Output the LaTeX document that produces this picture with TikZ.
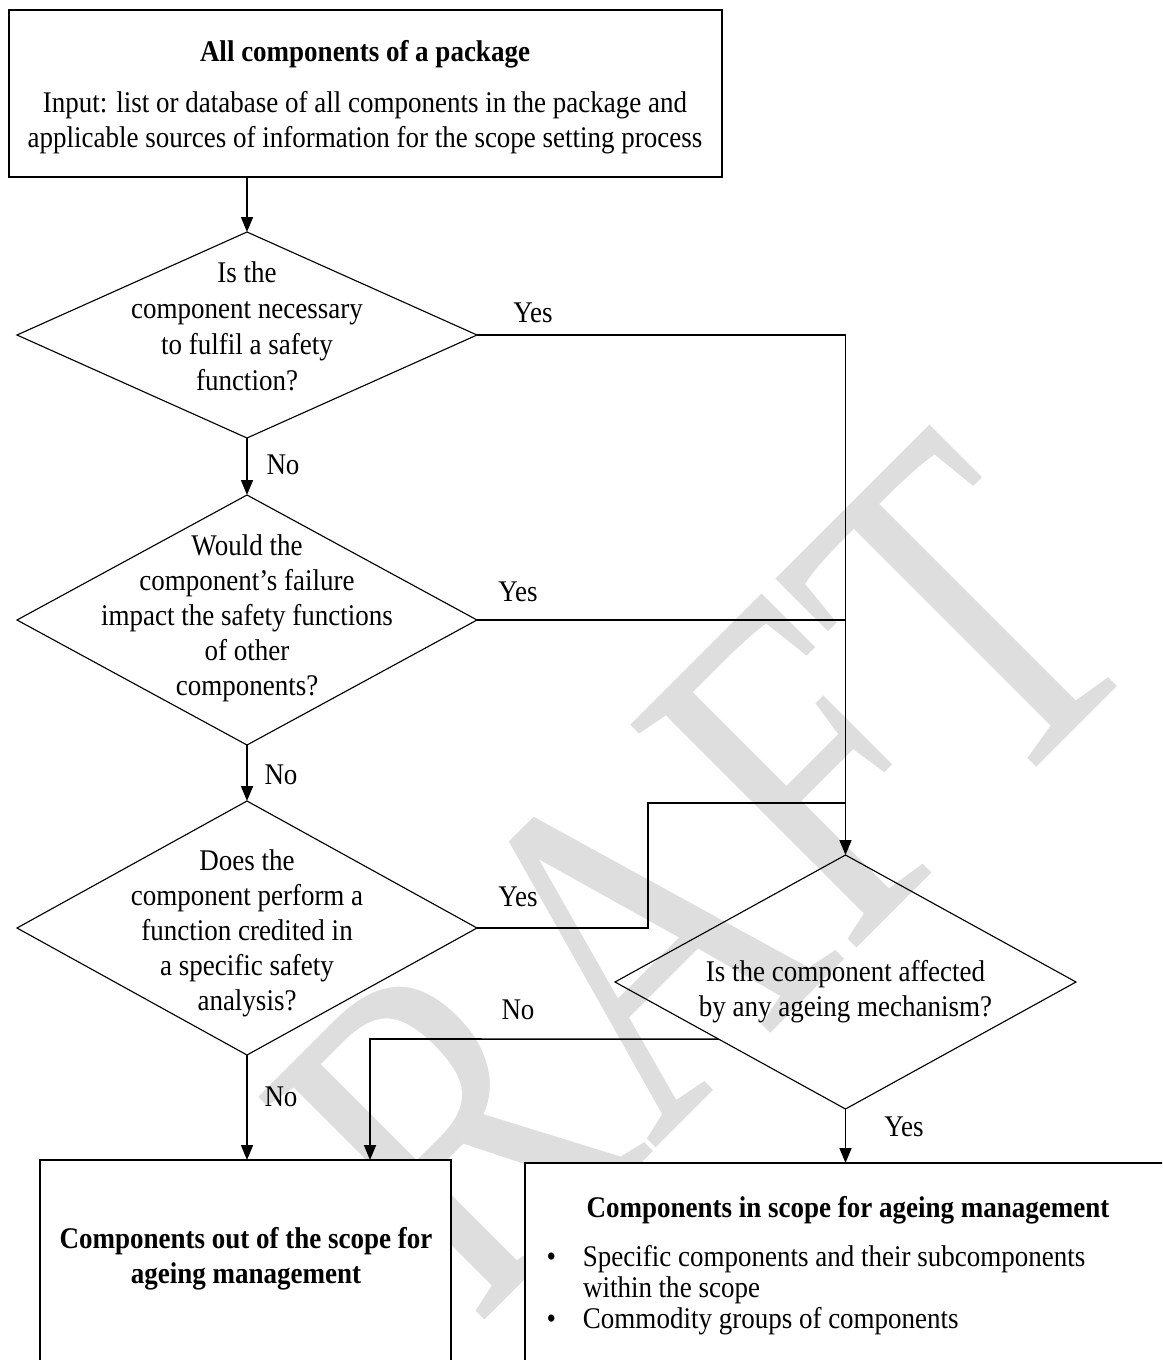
\documentclass[tikz,border=0pt]{standalone}
\usepackage{fontspec}
\setmainfont{Liberation Serif}[FakeStretch=0.9]
\newfontfamily\wmfont{Liberation Serif}[FakeStretch=0.78]
\usetikzlibrary{shapes.geometric,arrows.meta,calc}
\definecolor{wmgray}{HTML}{DEDEDE}

\begin{document}
\begin{tikzpicture}[x=0.4pt,y=-0.4pt]

%styles
\tikzset{
    decision/.style args={#1:#2}{draw, diamond, line width=0.45pt,
        minimum width=#1*0.4pt, minimum height=#2*0.4pt, inner sep=0pt, outer sep=0pt},
    frame/.style args={#1:#2}{draw, fill=white, rectangle, line width=0.55pt,
        minimum width=#1*0.4pt, minimum height=#2*0.4pt, inner sep=0pt, outer sep=0pt},
    txt/.style={align=center, inner sep=0pt, font=\fontsize{12}{14}\selectfont},
    lbl/.style={inner sep=0pt, font=\fontsize{12}{14}\selectfont},
    wire/.style={line width=0.65pt},
    arr/.style={wire, -{Triangle[length=6pt,width=4.8pt]}}
}

\useasboundingbox (0,0) rectangle (1162,1360);
\clip (0,0) rectangle (1162,1360);

%watermark
\node[rotate=45, text=wmgray, inner sep=0pt, font=\wmfont\fontsize{194}{194}\selectfont] (wm) at (608,971) {DRAFT};

%start box
\node[frame=713:167] (top) at (365.5,93.5) {};
\node[txt] (toptitle) at (365,54) {\textbf{All components of a package}};
\node[txt] (topinput) at (365,123) {Input: list or database of all components in the package and\\applicable sources of information for the scope setting process};

%questions
\node[decision=460:206] (q1) at (247,335) {};
\node[txt, font=\fontsize{12}{14.4}\selectfont] (q1t) at (247,326.5) {Is the\\component necessary\\to fulfil a safety\\function?};
\node[decision=460:250] (q2) at (247,620) {};
\node[txt] (q2t) at (247,618) {Would the\\component’s failure\\impact the safety functions\\of other\\components?};
\node[decision=460:254] (q3) at (247,928) {};
\node[txt] (q3t) at (247,933) {Does the\\component perform a\\function credited in\\a specific safety\\analysis?};
\node[decision=461:254] (q4) at (845.5,982) {};
\node[txt] (q4t) at (845.5,992) {Is the component affected\\by any ageing mechanism?};

%results
\node[frame=411:300] (outscope) at (245.5,1310) {};
\node[txt, font=\fontsize{12}{14}\selectfont\bfseries] (outt) at (246,1259) {Components out of the scope for\\ageing management};
\node[frame=700:300] (inscope) at (875,1313) {};
\node[txt] (int) at (848,1210) {\textbf{Components in scope for ageing management}};
\node[lbl, anchor=base west, font=\fontsize{12}{12.4}\selectfont] (inlist) at (546,1266)
    {\begin{tabular}[t]{@{}p{14.6pt}@{}l@{}}\textbullet & Specific components and their subcomponents\\
      & within the scope\\ \textbullet & Commodity groups of components\end{tabular}};

%arrows
\draw[arr] (q1.north |- top.south) -- (q1.north);
\draw[arr] (q1.south) -- (q2.north);
\draw[arr] (q2.south) -- (q3.north);
\draw[arr] (q1.east) -| (q4.north);
\draw[wire] (q2.east) -- (q2.east -| q4.north);
\coordinate (bend3) at (648,803);
\draw[wire] (q3.east) -| (bend3) -- (bend3 -| q4.north);
\draw[arr] (q3.south) -- (q3.south |- outscope.north);
\coordinate (bend4) at (370,1039);
\draw[arr] ($(q4.west)!0.45!(q4.south)$) -- (bend4) -- (bend4 |- outscope.north);
\draw[arr] (q4.south) -- (q4.south |- inscope.north);

%labels
\node[lbl] (yes1) at (533,313) {Yes};
\node[lbl] (yes2) at (518,592) {Yes};
\node[lbl] (yes3) at (518,897) {Yes};
\node[lbl] (yes4) at (904,1127) {Yes};
\node[lbl] (no1) at (283,465) {No};
\node[lbl] (no2) at (281,775) {No};
\node[lbl] (no3) at (281,1097) {No};
\node[lbl] (no4) at (518,1010) {No};

\end{tikzpicture}
\end{document}
